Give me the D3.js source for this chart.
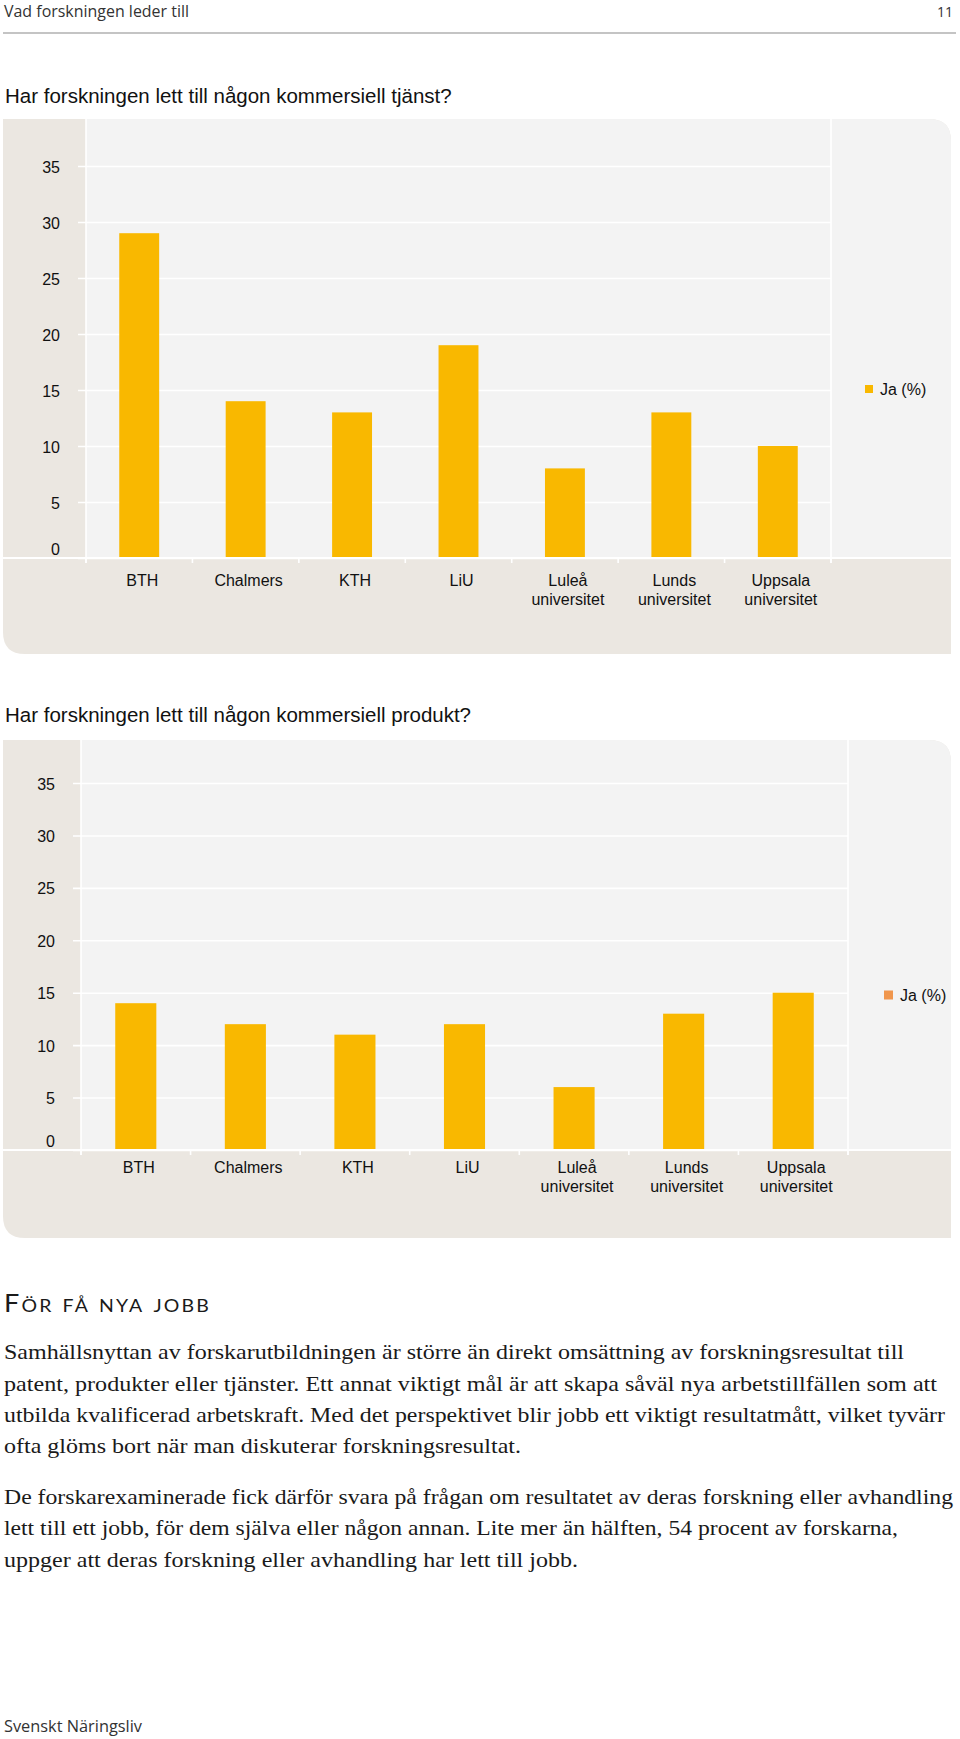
<!DOCTYPE html>
<html><head><meta charset="utf-8">
<script src="https://cdn.jsdelivr.net/npm/d3@7"></script>
<style>body{margin:0;background:#fff}svg{display:block}</style>
</head><body>
<script>
// ---- data ----
const categories = ["BTH", "Chalmers", "KTH", "LiU", "Luleå universitet", "Lunds universitet", "Uppsala universitet"];
const tjanstValues = [29, 14, 13, 19, 8, 13, 10];
const produktValues = [14, 12, 11, 12, 6, 13, 15];
const yTicks = [0, 5, 10, 15, 20, 25, 30, 35];
const seriesLabel = "Ja (%)";
const chartTitles = ["Har forskningen lett till någon kommersiell tjänst?", "Har forskningen lett till någon kommersiell produkt?"];
const headerText = "Vad forskningen leder till";
const pageNumber = "11";
const footerText = "Svenskt Näringsliv";
const sectionHeading = "För få nya jobb";
const bodyLines = [
  "Samhällsnyttan av forskarutbildningen är större än direkt omsättning av forskningsresultat till",
  "patent, produkter eller tjänster. Ett annat viktigt mål är att skapa såväl nya arbetstillfällen som att",
  "utbilda kvalificerad arbetskraft. Med det perspektivet blir jobb ett viktigt resultatmått, vilket tyvärr",
  "ofta glöms bort när man diskuterar forskningsresultat.",
  "De forskarexaminerade fick därför svara på frågan om resultatet av deras forskning eller avhandling",
  "lett till ett jobb, för dem själva eller någon annan. Lite mer än hälften, 54 procent av forskarna,",
  "uppger att deras forskning eller avhandling har lett till jobb."
];

// ---- layout ----
const W = 960, H = 1739;
const BAR = "#f9b800", BEIGE = "#ebe7e1", LIGHT = "#f3f3f3";
const svg = d3.select("body").append("svg").attr("width", W).attr("height", H);

// header
svg.append("text").attr("x", 4).attr("y", 17).attr("font-family", "'Liberation Sans Narrow','Open Sans',sans-serif")
  .attr("font-size", 17).attr("fill", "#333").attr("textLength", 185).attr("lengthAdjust", "spacingAndGlyphs").text(headerText);
svg.append("text").attr("x", 953).attr("y", 17).attr("text-anchor", "end").attr("font-family", "'Liberation Sans Narrow','Open Sans',sans-serif")
  .attr("font-size", 14).attr("fill", "#333").text(pageNumber);
svg.append("line").attr("x1", 3).attr("x2", 956).attr("y1", 33).attr("y2", 33).attr("stroke", "#8a8a8a").attr("stroke-width", 1.2);

function panelPath(x0, y0, x1, y1, r) {
  return `M${x0},${y0} L${x1 - r},${y0} Q${x1},${y0} ${x1},${y0 + r} L${x1},${y1} L${x0 + r},${y1} Q${x0},${y1} ${x0},${y1 - r} Z`;
}
function lightPath(x0, y0, x1, y1, r) {
  return `M${x0},${y0} L${x1 - r},${y0} Q${x1},${y0} ${x1},${y0 + r} L${x1},${y1} L${x0},${y1} Z`;
}

function drawChart(cfg, values) {
  const g = svg.append("g");
  g.append("text").attr("x", 5).attr("y", cfg.titleY).attr("font-family", "'Liberation Sans',Arial,sans-serif")
    .attr("font-size", 20.5).attr("fill", "#111").text(cfg.title);
  g.append("path").attr("d", panelPath(3, cfg.top, 951, cfg.bottom, 22)).attr("fill", BEIGE);
  g.append("path").attr("d", lightPath(cfg.left, cfg.top, 951, cfg.y0, 22)).attr("fill", LIGHT);

  const x = d3.scaleBand().domain(categories).range([cfg.left, cfg.right]).paddingInner(0.625).paddingOuter(0.3125);
  const y = d3.scaleLinear().domain([0, 35]).range([cfg.y0, cfg.y35]);

  const yAxis = d3.axisLeft(y).tickValues(yTicks).tickSize(cfg.right - (cfg.left - 8)).tickPadding(18);
  const ya = g.append("g").attr("transform", `translate(${cfg.right},0)`).call(yAxis);
  ya.select(".domain").remove();
  ya.selectAll("line").attr("stroke", "#fff").attr("stroke-width", 1.6);
  ya.selectAll("text").attr("font-family", "'Liberation Sans',Arial,sans-serif").attr("font-size", 16).attr("fill", "#111")
    .attr("dy", d => d === 0 ? "-0.25em" : "0.38em");

  g.append("line").attr("x1", cfg.left).attr("x2", cfg.left).attr("y1", cfg.top).attr("y2", cfg.y0 + 5).attr("stroke", "#fff").attr("stroke-width", 1.6);
  g.append("line").attr("x1", cfg.right).attr("x2", cfg.right).attr("y1", cfg.top).attr("y2", cfg.y0 + 5).attr("stroke", "#fff").attr("stroke-width", 1.6);

  g.selectAll("rect.bar").data(categories).join("rect").attr("class", "bar")
    .attr("x", d => x(d)).attr("width", x.bandwidth())
    .attr("y", (d, i) => y(values[i])).attr("height", (d, i) => y(0) - y(values[i]))
    .attr("fill", BAR);

  g.append("line").attr("x1", 3).attr("x2", 951).attr("y1", cfg.y0).attr("y2", cfg.y0).attr("stroke", "#fff").attr("stroke-width", 1.8);
  const bounds = d3.range(categories.length + 1).map(i => cfg.left + i * x.step());
  g.selectAll("line.bt").data(bounds).join("line").attr("class", "bt")
    .attr("x1", d => d).attr("x2", d => d).attr("y1", cfg.y0).attr("y2", cfg.y0 + 5).attr("stroke", "#fff").attr("stroke-width", 1.6);

  const xAxis = d3.axisBottom(x).tickSize(0).tickPadding(0);
  const xa = g.append("g").attr("transform", `translate(0,${cfg.y0})`).call(xAxis);
  xa.select(".domain").remove();
  xa.selectAll("text").attr("font-family", "'Liberation Sans',Arial,sans-serif").attr("font-size", 16).attr("fill", "#111")
    .attr("y", cfg.labelDy).attr("dy", 0)
    .each(function (d) {
      const t = d3.select(this); const parts = d.split(" ");
      t.text(null);
      parts.forEach((p, i) => t.append("tspan").attr("x", 3).attr("dy", i === 0 ? 0 : "1.2em").text(p));
    });

  g.append("rect").attr("x", cfg.legX).attr("y", cfg.legY - cfg.legS / 2).attr("width", cfg.legS).attr("height", cfg.legS).attr("fill", cfg.legColor);
  g.append("text").attr("x", cfg.legX + cfg.legS + 7).attr("y", cfg.legY).attr("dy", "0.36em")
    .attr("font-family", "'Liberation Sans',Arial,sans-serif").attr("font-size", 16).attr("fill", "#111").text(seriesLabel);
}

drawChart({ title: chartTitles[0], titleY: 103, top: 119, bottom: 654, left: 86, right: 831, y0: 558, y35: 166,
  labelDy: 28, legX: 865, legY: 389, legS: 8, legColor: BAR }, tjanstValues);
drawChart({ title: chartTitles[1], titleY: 722, top: 740, bottom: 1238, left: 81, right: 848, y0: 1150, y35: 783,
  labelDy: 23, legX: 884, legY: 995, legS: 9, legColor: "#f0964c" }, produktValues);

svg.append("text").attr("x", 4).attr("y", 1312).attr("font-family", "Lato,'Open Sans',sans-serif").attr("font-weight", 400)
  .attr("font-size", 25).attr("font-variant", "small-caps").attr("letter-spacing", 2).attr("fill", "#1a1a1a")
  .attr("textLength", 207).attr("lengthAdjust", "spacingAndGlyphs").text(sectionHeading);

const lineY = [1359, 1391, 1422, 1453, 1504, 1535, 1567];
const lineW = [904, 937, 945, 521, 953, 898, 578];
svg.selectAll("text.body").data(bodyLines).join("text").attr("class", "body")
  .attr("x", 4).attr("y", (d, i) => lineY[i]).attr("font-family", "'Liberation Serif','Times New Roman',serif")
  .attr("font-size", 21).attr("fill", "#1a1a1a")
  .attr("textLength", (d, i) => lineW[i] - 4).attr("lengthAdjust", "spacingAndGlyphs").text(d => d);

svg.append("text").attr("x", 4).attr("y", 1732).attr("font-family", "'Liberation Sans Narrow','Open Sans',sans-serif")
  .attr("font-size", 17).attr("fill", "#333").attr("textLength", 138).attr("lengthAdjust", "spacingAndGlyphs").text(footerText);
</script>
</body></html>
